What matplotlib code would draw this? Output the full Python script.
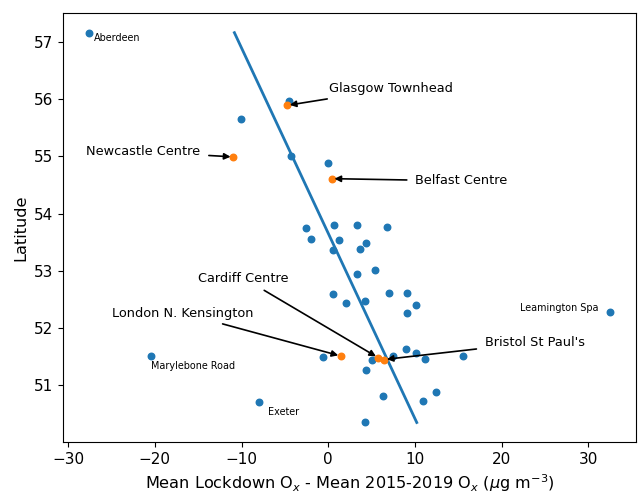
import numpy as np
import matplotlib
matplotlib.use("Agg")
import matplotlib.pyplot as plt

# --- Site values: change in mean Ox vs latitude ---
ox_change = [-27.6, -10.1, -4.5, -4.3, 0.0,
             -2.55, -1.97, 0.63, 1.2, 0.52, 3.3, 6.83, 4.38, 3.7,
             3.35, 5.37, 0.52, 2.09, 4.19, 7.02, 9.04, 10.1, 9.08, 32.5,
             8.97, 10.1, 7.47, 11.18, 15.6, 5.03, -0.55, 4.34,
             6.36, 12.4, 10.95, 4.26, -20.47, -7.97]
latitude = [57.16, 55.66, 55.96, 55.01, 54.89,
            53.74, 53.56, 53.80, 53.54, 53.37, 53.80, 53.76, 53.48, 53.38,
            52.94, 53.02, 52.59, 52.43, 52.47, 52.61, 52.61, 52.40, 52.26, 52.28,
            51.64, 51.57, 51.52, 51.46, 51.51, 51.44, 51.49, 51.26,
            50.82, 50.89, 50.72, 50.35, 51.51, 50.70]

# Highlighted urban sites
hl_names = ["Glasgow Townhead", "Newcastle Centre", "Belfast Centre",
            "London N. Kensington", "Cardiff Centre", "Bristol St Paul's"]
hl_ox = [-4.75, -10.95, 0.4, 1.47, 5.79, 6.44]
hl_lat = [55.89, 54.99, 54.61, 51.51, 51.48, 51.45]
hl_text_x = [0.05, -27.9, 10.03, -24.9, -14.97, 18.06]
hl_text_y = [56.18, 55.08, 54.57, 52.26, 52.87, 51.75]

# Outlier sites with small labels
small_names = ["Aberdeen", "Marylebone Road", "Exeter", "Leamington Spa"]
small_x = [-27.0, -20.47, -6.94, 22.08]
small_y = [57.06, 51.33, 50.54, 52.35]

# Fitted line: ox = slope * lat + intercept
fit_slope = -3.09
fit_intercept = 165.8

fig = plt.figure(figsize=(6.38, 4.94), dpi=100)
ax = fig.add_axes([0.0987, 0.1053, 0.898, 0.868])

ax.scatter(ox_change, latitude, s=22, color="C0", zorder=2)
ax.scatter(hl_ox, hl_lat, s=22, color="C1", zorder=3)

lat_all = np.array(latitude + hl_lat)
lat_line = np.array([lat_all.max(), lat_all.min()])
ax.plot(fit_slope * lat_line + fit_intercept, lat_line, color="C0", lw=2, zorder=1)

for name, x, y, tx, ty in zip(hl_names, hl_ox, hl_lat, hl_text_x, hl_text_y):
    ax.annotate(name, xy=(x, y), xytext=(tx, ty), fontsize=9.3,
                ha="left", va="center",
                arrowprops=dict(arrowstyle="-|>", color="black", lw=1.2,
                                shrinkA=4, shrinkB=2))

for name, x, y in zip(small_names, small_x, small_y):
    ax.text(x, y, name, fontsize=6.9, ha="left", va="center")

ax.set_xlabel(r"Mean Lockdown O$_x$ - Mean 2015-2019 O$_x$ ($\mu$g m$^{-3}$)", fontsize=11.6)
ax.set_ylabel("Latitude", fontsize=11.6)
ax.tick_params(labelsize=11)

fig.savefig("out.png", dpi=100)
